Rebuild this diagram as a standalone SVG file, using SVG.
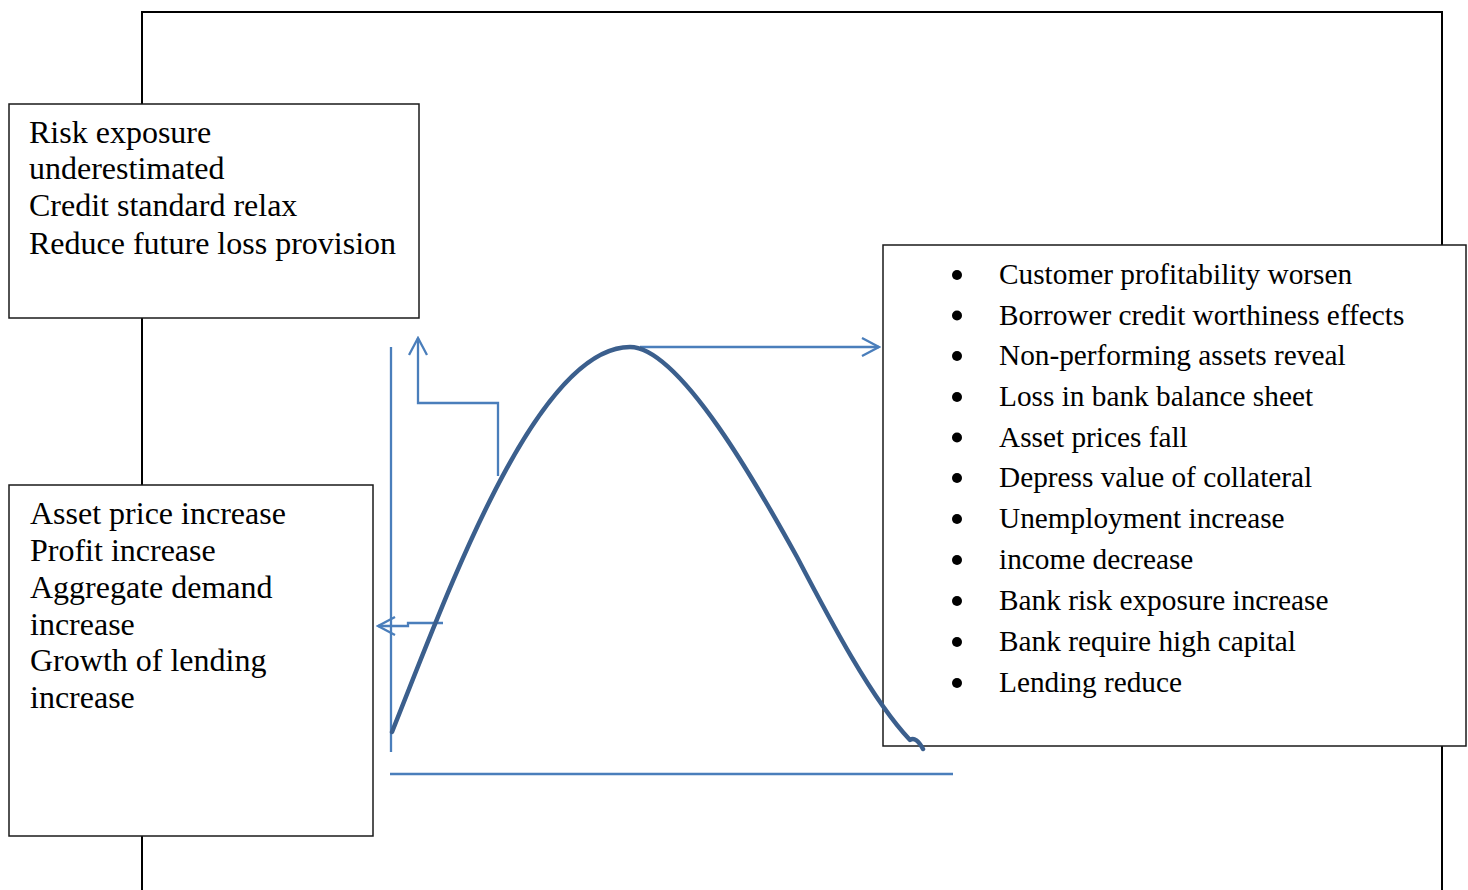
<svg xmlns="http://www.w3.org/2000/svg" width="1468" height="890" viewBox="0 0 1468 890">
<style>
.frame{fill:none;stroke:#000;stroke-width:2}
.box{fill:#fff;stroke:#1a1a1a;stroke-width:1.5}
.t{font-family:"Liberation Serif","Times New Roman",serif;font-size:32px;fill:#000}
.r{font-family:"Liberation Serif","Times New Roman",serif;font-size:29.3px;fill:#000}
.ln{fill:none;stroke:#4a7ebb;stroke-width:2.3}
.curve{fill:none;stroke:#3b5f8d;stroke-width:4.5;stroke-linecap:round;stroke-linejoin:round}
</style>
<defs>
<marker id="arr" viewBox="0 0 20 20" refX="18" refY="10" markerWidth="20" markerHeight="20" markerUnits="userSpaceOnUse" orient="auto">
<path d="M1,1 L18,10 L1,19" fill="none" stroke="#4a7ebb" stroke-width="2.3"/>
</marker>
</defs>
<rect width="1468" height="890" fill="#fff"/>
<path class="frame" d="M142,890 V12 H1442 V890"/>
<g id="connectors">
<line class="ln" x1="391" y1="347" x2="391" y2="752"/>
<line class="ln" x1="390" y1="774" x2="953" y2="774"/>
<path class="ln" d="M498,476 V403 H418 V338" marker-end="url(#arr)"/>
<path class="ln" d="M443,623 H408 V626 H378" marker-end="url(#arr)"/>
<path class="ln" d="M640,347 H879" marker-end="url(#arr)"/>
</g>
<g id="box-top-left">
<rect class="box" x="9" y="104" width="410" height="214"/>
<text class="t" x="29" y="143">Risk exposure</text>
<text class="t" x="29" y="179">underestimated</text>
<text class="t" x="29" y="216">Credit standard relax</text>
<text class="t" x="29" y="254">Reduce future loss provision</text>
</g>
<g id="box-bottom-left">
<rect class="box" x="9" y="485" width="364" height="351"/>
<text class="t" x="30" y="524">Asset price increase</text>
<text class="t" x="30" y="561">Profit increase</text>
<text class="t" x="30" y="598">Aggregate demand</text>
<text class="t" x="30" y="635">increase</text>
<text class="t" x="30" y="671">Growth of lending</text>
<text class="t" x="30" y="708">increase</text>
</g>
<g id="box-right">
<rect class="box" x="883" y="245" width="583" height="501"/>
<g fill="#000">
<circle cx="957" cy="275" r="5"/>
<circle cx="957" cy="315.5" r="5"/>
<circle cx="957" cy="356" r="5"/>
<circle cx="957" cy="397" r="5"/>
<circle cx="957" cy="437.5" r="5"/>
<circle cx="957" cy="478" r="5"/>
<circle cx="957" cy="519" r="5"/>
<circle cx="957" cy="560" r="5"/>
<circle cx="957" cy="601" r="5"/>
<circle cx="957" cy="642" r="5"/>
<circle cx="957" cy="683" r="5"/>
</g>
<text class="r" x="999" y="284">Customer profitability worsen</text>
<text class="r" x="999" y="324.5">Borrower credit worthiness effects</text>
<text class="r" x="999" y="365">Non-performing assets reveal</text>
<text class="r" x="999" y="406">Loss in bank balance sheet</text>
<text class="r" x="999" y="446.5">Asset prices fall</text>
<text class="r" x="999" y="487">Depress value of collateral</text>
<text class="r" x="999" y="528">Unemployment increase</text>
<text class="r" x="999" y="569">income decrease</text>
<text class="r" x="999" y="610">Bank risk exposure increase</text>
<text class="r" x="999" y="651">Bank require high capital</text>
<text class="r" x="999" y="692">Lending reduce</text>
</g>
<g id="cycle-curve">
<path class="curve" d="M392,732 C445,600 535,347 630,347 C680,347 760,490 797,557 C830,620 872,700 910,740 Q916,736 923,749"/>
</g>
</svg>
